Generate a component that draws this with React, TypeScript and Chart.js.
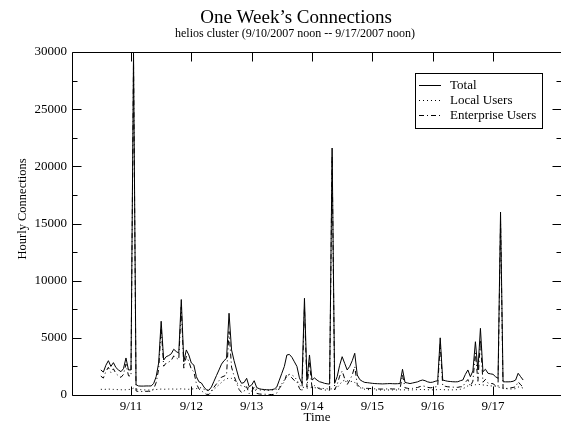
import { useEffect, useRef } from "react";
import { Chart, registerables } from "chart.js";

Chart.register(...registerables);

// Hourly samples, first one at 9/10 noon (day 10.5), last at 9/17 noon.
const startDay = 10.5;

const dayTicks = [11, 12, 13, 14, 15, 16, 17];
const dayLabels = ["9/11", "9/12", "9/13", "9/14", "9/15", "9/16", "9/17"];
const yMajorTicks = [0, 5000, 10000, 15000, 20000, 25000, 30000];
const yMinorTicks = [2500, 7500, 12500, 17500, 22500, 27500];

const total = [
  2190, 2000, 2600, 3000, 2500, 2830, 2400, 2190, 2040, 2300, 3240, 2190, 2200, 29900, 900, 790, 780, 780, 790, 790, 790, 1000, 1600, 2800,
  6450, 3060, 3350, 3450, 3600, 4000, 3800, 3670, 8350, 2910, 3940, 3500, 2800, 2620, 1600, 1160, 1050, 700, 450, 420, 700, 1200, 1700, 2190,
  2700, 3000, 3210, 7150, 3940, 3000, 2190, 1400, 1020, 1100, 1460, 730, 875, 1250, 650, 550, 500, 480, 460, 450, 470, 520, 700, 1300,
  1900, 2500, 3500, 3550, 3300, 2900, 2500, 1500, 1020, 8460, 1300, 3500, 1310, 1490, 1300, 1160, 1100, 1020, 980, 950, 21600, 1020, 1600, 2600,
  3350, 2770, 2190, 2500, 3000, 3650, 1750, 1350, 1200, 1100, 1080, 1050, 1020, 1000, 990, 980, 970, 980, 990, 1000, 990, 980, 990, 1000,
  2250, 1100, 1050, 1000, 1050, 1100, 1150, 1250, 1310, 1250, 1150, 1100, 1120, 1200, 1250, 5000, 1310, 1250, 1200, 1180, 1160, 1150, 1160, 1250,
  1310, 1800, 2190, 1600, 2100, 4660, 2190, 5830, 2040, 2250, 1900, 1850, 1810, 1600, 1460, 16000, 1160, 1150, 1150, 1160, 1200, 1310, 1900, 1600, 1310,
];

const localUsers = [
  500, 480, 500, 520, 500, 490, 480, 470, 460, 450, 460, 480, 500, 600, 520, 480, 460, 450, 440, 440, 450, 460, 480, 500,
  520, 500, 510, 520, 530, 520, 510, 520, 540, 520, 510, 500, 520, 540, 560, 600, 650, 500, 400, 380, 400, 500, 700, 900,
  1100, 1300, 1400, 1500, 1450, 1300, 1100, 900, 800, 750, 700, 600, 550, 520, 500, 450, 420, 400, 400, 410, 430, 450, 520, 700,
  1000, 1300, 1600, 1800, 1750, 1600, 1300, 900, 700, 650, 600, 620, 650, 640, 620, 600, 580, 560, 540, 520, 540, 560, 650, 900,
  1200, 1300, 1250, 1150, 1200, 1100, 800, 650, 560, 500, 480, 460, 450, 440, 440, 440, 430, 430, 440, 440, 440, 440, 440, 450,
  460, 450, 440, 440, 450, 460, 470, 480, 480, 470, 460, 450, 450, 460, 470, 480, 470, 460, 450, 450, 450, 460, 470, 500,
  560, 650, 800, 800, 850, 900, 950, 900, 880, 850, 820, 800, 780, 760, 700, 650, 600, 560, 540, 520, 520, 560, 700, 680, 600,
];

const enterpriseUsers = [
  1650, 1480, 2050, 2420, 1960, 2290, 1880, 1680, 1540, 1800, 2700, 1680, 1660, 29200, 360, 300, 300, 310, 320, 330, 320, 520, 1080, 2250,
  5850, 2520, 2800, 2880, 3020, 3420, 3240, 3100, 7700, 2350, 3380, 2950, 2240, 2040, 1010, 540, 380, 190, 60, 50, 290, 680, 970, 1250,
  1560, 1650, 1760, 5550, 2440, 1660, 1060, 480, 210, 330, 730, 120, 310, 700, 140, 90, 70, 70, 60, 40, 40, 60, 170, 580,
  880, 1170, 1860, 1700, 1500, 1260, 1170, 580, 300, 7700, 680, 2820, 640, 820, 660, 540, 500, 440, 420, 410, 20900, 440, 920, 1650,
  2100, 1430, 910, 1310, 1750, 2490, 920, 680, 620, 580, 580, 570, 550, 540, 530, 520, 520, 530, 530, 540, 530, 520, 530, 530,
  1740, 630, 590, 540, 580, 620, 660, 740, 800, 750, 670, 630, 650, 710, 750, 4420, 810, 760, 720, 700, 690, 670, 670, 720,
  720, 1110, 1350, 770, 1210, 3680, 1200, 4830, 1120, 1360, 1040, 1010, 990, 810, 730, 15200, 540, 570, 590, 620, 660, 720, 1160, 890, 690,
];

const SERIF = "'Liberation Serif', 'Times New Roman', serif";
const LOCAL_DASH = [1, 3];
const ENTERPRISE_DASH = [5, 3, 1, 3];

const toPoints = (vals: number[]) => vals.map((y, i) => ({ x: startDay + i / 24, y }));

// Frame with inward-pointing ticks on every side.
const framePlugin = {
  id: "frame",
  afterDatasetsDraw(chart: any) {
    const { ctx, chartArea, scales } = chart;
    const { left, right, top, bottom } = chartArea;
    const L = left - 0.5;
    const T = top + 0.5;
    const B = bottom + 0.5;
    const R = right - 0.5;
    ctx.save();
    ctx.strokeStyle = "#000";
    ctx.lineWidth = 1;
    ctx.setLineDash([]);
    ctx.beginPath();
    ctx.moveTo(right, T);
    ctx.lineTo(L, T);
    ctx.lineTo(L, B);
    ctx.lineTo(right, B);
    for (const v of dayTicks) {
      const px = Math.round(scales.x.getPixelForValue(v)) + 0.5;
      ctx.moveTo(px, B);
      ctx.lineTo(px, B - 9);
      ctx.moveTo(px, T);
      ctx.lineTo(px, T + 9);
    }
    for (const v of yMajorTicks) {
      const py = Math.round(scales.y.getPixelForValue(v)) + 0.5;
      ctx.moveTo(L, py);
      ctx.lineTo(L + 9, py);
      ctx.moveTo(R + 1, py);
      ctx.lineTo(R - 8, py);
    }
    for (const v of yMinorTicks) {
      const py = Math.round(scales.y.getPixelForValue(v)) + 0.5;
      ctx.moveTo(L, py);
      ctx.lineTo(L + 5, py);
      ctx.moveTo(R + 1, py);
      ctx.lineTo(R - 4, py);
    }
    ctx.stroke();
    ctx.restore();
  },
};

// Titles, axis captions and the boxed key.
const textPlugin = {
  id: "texts",
  afterDraw(chart: any) {
    const { ctx, chartArea } = chart;
    ctx.save();
    ctx.fillStyle = "#000";
    ctx.textAlign = "center";
    ctx.textBaseline = "alphabetic";
    ctx.font = `19px ${SERIF}`;
    ctx.fillText("One Week\u2019s Connections", 296, 23);
    ctx.font = `12px ${SERIF}`;
    ctx.fillText("helios cluster (9/10/2007 noon -- 9/17/2007 noon)", 295, 37);

    ctx.font = `13px ${SERIF}`;
    ctx.textBaseline = "middle";
    ctx.fillText("Time", (chartArea.left + chartArea.right) / 2, 418);

    ctx.save();
    ctx.translate(22.5, 209);
    ctx.rotate(-Math.PI / 2);
    ctx.font = `12.5px ${SERIF}`;
    ctx.fillText("Hourly Connections", 0, 0);
    ctx.restore();

    // key
    const bx = 415.5, by = 73.5, bw = 127, bh = 55;
    ctx.fillStyle = "#fff";
    ctx.fillRect(bx, by, bw, bh);
    ctx.strokeStyle = "#000";
    ctx.lineWidth = 1;
    ctx.strokeRect(bx, by, bw, bh);
    const entries = [
      { label: "Total", dash: [] as number[], y: 85.5 },
      { label: "Local Users", dash: LOCAL_DASH, y: 100.5 },
      { label: "Enterprise Users", dash: ENTERPRISE_DASH, y: 115.5 },
    ];
    ctx.font = `13px ${SERIF}`;
    ctx.textAlign = "left";
    for (const e of entries) {
      ctx.setLineDash(e.dash);
      ctx.beginPath();
      ctx.moveTo(419, e.y);
      ctx.lineTo(441, e.y);
      ctx.stroke();
      ctx.setLineDash([]);
      ctx.fillStyle = "#000";
      ctx.fillText(e.label, 450, e.y);
    }
    ctx.restore();
  },
};

export default function App() {
  const canvasRef = useRef<HTMLCanvasElement | null>(null);

  useEffect(() => {
    const canvas = canvasRef.current;
    if (!canvas) return;
    const chart = new Chart(canvas, {
      type: "line",
      data: {
        datasets: [
          {
            label: "Total",
            data: toPoints(total),
            borderColor: "#000",
            borderWidth: 1,
            pointRadius: 0,
            tension: 0,
          },
          {
            label: "Local Users",
            data: toPoints(localUsers),
            borderColor: "#000",
            borderWidth: 1,
            borderDash: LOCAL_DASH,
            pointRadius: 0,
            tension: 0,
          },
          {
            label: "Enterprise Users",
            data: toPoints(enterpriseUsers),
            borderColor: "#000",
            borderWidth: 1,
            borderDash: ENTERPRISE_DASH,
            pointRadius: 0,
            tension: 0,
          },
        ],
      },
      options: {
        animation: false,
        responsive: false,
        devicePixelRatio: 1,
        layout: { padding: { top: 52, right: 0, left: 0, bottom: 0 } },
        plugins: {
          legend: { display: false },
          title: { display: false },
          tooltip: { enabled: false },
        },
        scales: {
          x: {
            type: "linear",
            min: 10.0386,
            max: 18.127,
            grid: { display: false, drawTicks: false },
            border: { display: false },
            afterBuildTicks: (axis: any) => {
              axis.ticks = dayTicks.map((v) => ({ value: v }));
            },
            afterFit: (axis: any) => {
              axis.height = 31;
            },
            ticks: {
              padding: 4,
              maxRotation: 0,
              autoSkip: false,
              color: "#000",
              font: { family: SERIF, size: 13 },
              callback: (v: any) => dayLabels[dayTicks.indexOf(Number(v))] ?? "",
            },
          },
          y: {
            type: "linear",
            min: 0,
            max: 30000,
            grid: { display: false, drawTicks: false },
            border: { display: false },
            afterBuildTicks: (axis: any) => {
              axis.ticks = yMajorTicks.map((v) => ({ value: v }));
            },
            afterFit: (axis: any) => {
              axis.width = 73;
            },
            ticks: {
              padding: 6,
              color: "#000",
              font: { family: SERIF, size: 13 },
              callback: (v: any) => String(v),
            },
          },
        },
      },
      plugins: [framePlugin, textPlugin],
    });
    return () => chart.destroy();
  }, []);

  return (
    <div style={{ position: "absolute", left: 0, top: 0, width: 561, height: 426, background: "#fff" }}>
      <canvas ref={canvasRef} width={561} height={426} style={{ display: "block" }} />
    </div>
  );
}
